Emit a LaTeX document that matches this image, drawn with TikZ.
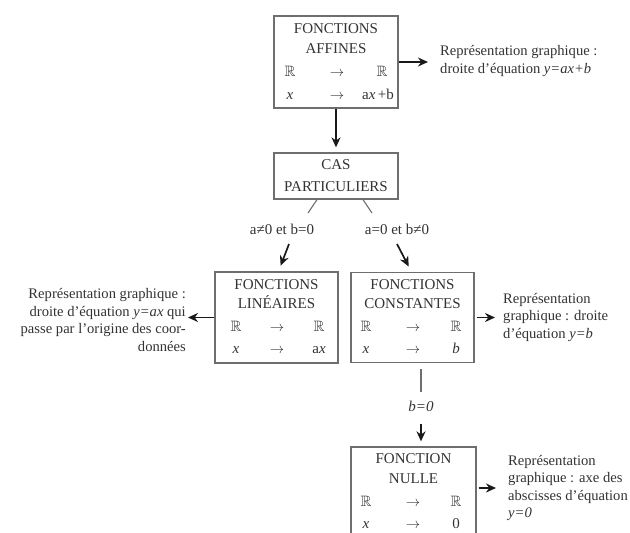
\documentclass[tikz,border=0pt]{standalone}
\usepackage{amssymb}
\usepackage{fontspec}
\setmainfont{Liberation Serif}
\usetikzlibrary{arrows.meta}
\definecolor{txtc}{HTML}{333333}
\definecolor{boxc}{HTML}{6E6E6E}
\begin{document}
\begin{tikzpicture}[x=1pt,y=-1pt,
  every node/.style={text=txtc, font=\fontsize{15}{17.5}\selectfont, inner sep=0pt},
  box/.style={draw=boxc, line width=1.3pt, rectangle, inner sep=0pt},
  t/.style={anchor=base},
  desc/.style={inner sep=0pt, font=\fontsize{14.6}{17.5}\selectfont},
  arr/.style={draw=black!90, line width=1.7pt, -{Stealth[length=10pt,width=9pt]}},
  gline/.style={draw=boxc, line width=1.1pt},
]
\clip (0,0) rectangle (630,533);
\fill[white] (0,0) rectangle (630,533);

% --- FONCTIONS AFFINES
\node[box, minimum width=124pt, minimum height=92pt] (aff) at (336,62) {};
\node[t] (aff1) at (336,33) {FONCTIONS};
\node[t] (aff2) at (336,53) {AFFINES};
\node[t] (aff3) at (290,76) {$\mathbb{R}$};
\node[t] (aff4) at (337,76) {$\to$};
\node[t] (aff5) at (382,76) {$\mathbb{R}$};
\node[t] (aff6) at (290,99) {\textit{x}};
\node[t] (aff7) at (337,99) {$\to$};
\node[t] (aff8) at (378,99) {a\textit{x}\,+b};
\node[desc, anchor=west, align=left] (affd) at (440,61) {Représentation graphique :\\droite d'équation \textit{y=ax+b}};

% --- CAS PARTICULIERS
\node[box, minimum width=124pt, minimum height=46pt] (cas) at (336,176) {};
\node[t] (cas1) at (336,169) {CAS};
\node[t] (cas2) at (336,191) {PARTICULIERS};

% --- FONCTIONS LINEAIRES
\node[box, minimum width=123pt, minimum height=91pt] (lin) at (276.5,317.5) {};
\node[t] (lin1) at (276.5,289) {FONCTIONS};
\node[t] (lin2) at (276.5,308) {LINÉAIRES};
\node[t] (lin3) at (236,331) {$\mathbb{R}$};
\node[t] (lin4) at (277,331) {$\to$};
\node[t] (lin5) at (319,331) {$\mathbb{R}$};
\node[t] (lin6) at (236,353) {\textit{x}};
\node[t] (lin7) at (277,353) {$\to$};
\node[t] (lin8) at (319,353) {a\textit{x}};
\node[desc, anchor=east, align=right] (lind) at (186,320) {Représentation graphique :\\droite d'équation \textit{y=ax} qui\\passe par l'origine des coor-\\données};

% --- FONCTIONS CONSTANTES
\node[box, minimum width=123pt, minimum height=90pt] (cons) at (412.5,317.5) {};
\node[t] (cons1) at (412.5,289) {FONCTIONS};
\node[t] (cons2) at (412.5,308) {CONSTANTES};
\node[t] (cons3) at (366,331) {$\mathbb{R}$};
\node[t] (cons4) at (413,331) {$\to$};
\node[t] (cons5) at (456,331) {$\mathbb{R}$};
\node[t] (cons6) at (366,353) {\textit{x}};
\node[t] (cons7) at (413,353) {$\to$};
\node[t] (cons8) at (456,353) {\textit{b}};
\node[desc, anchor=west, align=left] (consd) at (503,317) {Représentation\\graphique : droite\\d'équation \textit{y=b}};

% --- FONCTION NULLE
\node[box, minimum width=125pt, minimum height=110pt] (nul) at (413.5,502) {};
\node[t] (nul1) at (413.5,463) {FONCTION};
\node[t] (nul2) at (413.5,483) {NULLE};
\node[t] (nul3) at (366,506) {$\mathbb{R}$};
\node[t] (nul4) at (413,506) {$\to$};
\node[t] (nul5) at (456,506) {$\mathbb{R}$};
\node[t] (nul6) at (366,528) {\textit{x}};
\node[t] (nul7) at (413,528) {$\to$};
\node[t] (nul8) at (456,528) {0};
\node[desc, anchor=west, align=left] (nuld) at (508,488) {Représentation\\graphique : axe des\\abscisses d'équation\\\textit{y=0}};

% --- labels
\node (lab1) at (282,229) {a≠0 et b=0};
\node (lab2) at (397,229) {a=0 et b≠0};
\node (lab3) at (421,406) {\textit{b=0}};

\coordinate (c1) at (308,213);
\coordinate (c2) at (372,213);
\coordinate (c3) at (289,244);
\coordinate (c4) at (397,244);
\coordinate (c5) at (421,392);
\coordinate (c6) at (421,424);
\coordinate (c7) at (421,369);

% --- connectors
\draw[arr] (aff.east) -- ([xshift=-12pt]aff.east -| affd.west);
\draw[arr, shorten >=5pt] (aff.south) -- (cas.north);
\draw[gline] ([xshift=-19pt]cas.south) -- (c1);
\draw[gline] ([xshift=27pt]cas.south) -- (c2);
\draw[arr, shorten >=6pt] (c3) -- ([xshift=2pt]lin.north);
\draw[arr, shorten >=6pt] (c4) -- ([xshift=-1pt]cons.north);
\draw[arr] (lin.west) -- ([xshift=2pt]lin.west -| lind.east);
\draw[arr] ([xshift=2pt]cons.east) -- ([xshift=-8pt]cons.east -| consd.west);
\draw[gline] (c7) -- (c5);
\draw[arr, shorten >=5pt] (c6) -- (c6 |- nul.north);
\draw[arr] ([xshift=2pt]nul.east |- nuld.west) -- ([xshift=-12pt]nuld.west);
\end{tikzpicture}
\end{document}
